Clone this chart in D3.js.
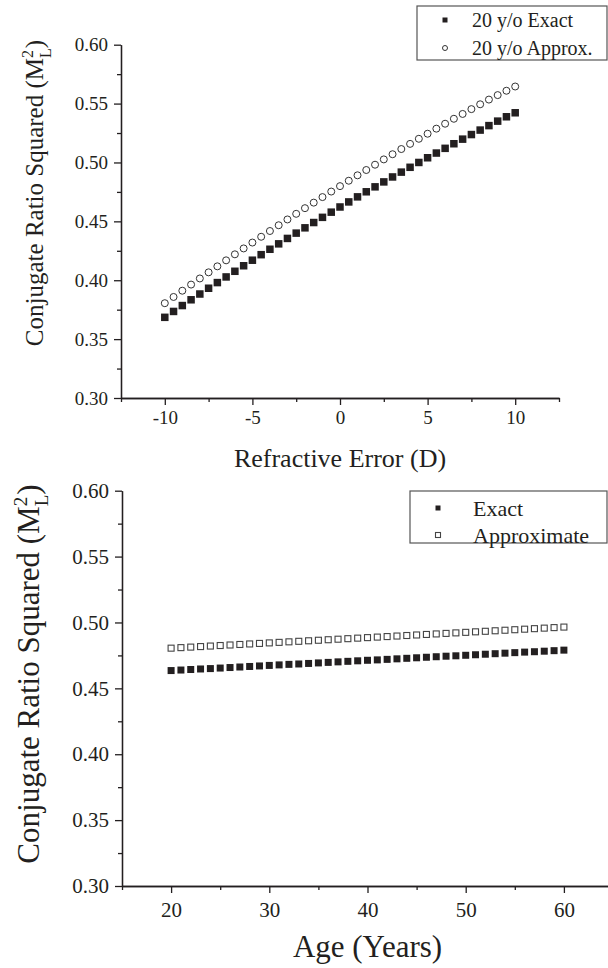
<!DOCTYPE html>
<html lang="en">
  <head>
    <meta charset="utf-8" />
    <title>Conjugate Ratio Squared</title>
    <script src="https://d3js.org/d3.v7.min.js"></script>
    <style>
      body { margin: 0; background: #fff; }
      svg { display: block; }
    </style>
  </head>
  <body>
    <script type="text/javascript">
      // top panel: refractive error (D)
      const refErr = [
        -10, -9.5, -9, -8.5, -8, -7.5, -7, -6.5, -6, -5.5, -5, -4.5, -4, -3.5,
        -3, -2.5, -2, -1.5, -1, -0.5, 0, 0.5, 1, 1.5, 2, 2.5, 3, 3.5, 4, 4.5, 5,
        5.5, 6, 6.5, 7, 7.5, 8, 8.5, 9, 9.5, 10,
      ];
      const exact20 = [
        0.3685, 0.3735, 0.3785, 0.3834, 0.3883, 0.3932, 0.398, 0.4028, 0.4076,
        0.4123, 0.417, 0.4217, 0.4263, 0.4309, 0.4355, 0.44, 0.4445, 0.449,
        0.4534, 0.4578, 0.4622, 0.4665, 0.4708, 0.4751, 0.4793, 0.4835, 0.4877,
        0.4918, 0.4959, 0.5, 0.504, 0.508, 0.512, 0.5159, 0.5198, 0.5237,
        0.5275, 0.5313, 0.5351, 0.5388, 0.5422,
      ];
      const approx20 = [
        0.3805, 0.3858, 0.3911, 0.3963, 0.4015, 0.4067, 0.4118, 0.4169, 0.422,
        0.427, 0.432, 0.4369, 0.4418, 0.4467, 0.4516, 0.4564, 0.4612, 0.4659,
        0.4706, 0.4753, 0.4799, 0.4845, 0.4891, 0.4936, 0.4981, 0.5026, 0.507,
        0.5114, 0.5158, 0.5201, 0.5244, 0.5287, 0.5329, 0.5371, 0.5412, 0.5453,
        0.5494, 0.5534, 0.5572, 0.5609, 0.5645,
      ];

      // bottom panel: age (years)
      const ages = [
        20, 21, 22, 23, 24, 25, 26, 27, 28, 29, 30, 31, 32, 33, 34, 35, 36, 37,
        38, 39, 40, 41, 42, 43, 44, 45, 46, 47, 48, 49, 50, 51, 52, 53, 54, 55,
        56, 57, 58, 59, 60,
      ];
      const exactAge = [
        0.4635, 0.4639, 0.4643, 0.4647, 0.465, 0.4654, 0.4658, 0.4662, 0.4666,
        0.467, 0.4674, 0.4678, 0.4682, 0.4685, 0.4689, 0.4693, 0.4697, 0.4701,
        0.4705, 0.4709, 0.4713, 0.4716, 0.472, 0.4724, 0.4728, 0.4732, 0.4736,
        0.474, 0.4744, 0.4747, 0.4751, 0.4755, 0.4759, 0.4763, 0.4767, 0.4771,
        0.4775, 0.4778, 0.4782, 0.4786, 0.479,
      ];
      const approxAge = [
        0.4805, 0.4809, 0.4813, 0.4817, 0.4821, 0.4825, 0.4829, 0.4833, 0.4837,
        0.4841, 0.4845, 0.4849, 0.4853, 0.4857, 0.4861, 0.4865, 0.4869, 0.4873,
        0.4877, 0.4881, 0.4885, 0.4889, 0.4893, 0.4897, 0.4901, 0.4905, 0.4909,
        0.4913, 0.4917, 0.4921, 0.4925, 0.4929, 0.4933, 0.4937, 0.4941, 0.4945,
        0.4949, 0.4953, 0.4957, 0.4961, 0.4965,
      ];

      const yTicks = [0.3, 0.35, 0.4, 0.45, 0.5, 0.55, 0.6];
      const yMinor = [0.325, 0.375, 0.425, 0.475, 0.525, 0.575];
      const refTicks = [-10, -5, 0, 5, 10];
      const refMinor = [-12.5, -7.5, -2.5, 2.5, 7.5, 12.5];
      const ageTicks = [20, 30, 40, 50, 60];
      const ageMinor = [15, 25, 35, 45, 55, 65];

      const w = 608;
      const h = 968;
      const ink = "#231f20";
      const serif = '"Liberation Serif", "Times New Roman", serif';

      const svg = d3
        .select("body")
        .append("svg")
        .attr("width", w)
        .attr("height", h);

      function styleAxis(g) {
        g.attr("font-family", serif);
        g.selectAll("path, line").attr("stroke", ink).attr("stroke-width", 1.3);
        g.selectAll("text").attr("fill", ink).style("font-family", serif);
      }

      function label(sel) {
        return sel.append("text").attr("fill", ink).style("font-family", serif);
      }

      function panel(p) {
        const x = d3.scaleLinear().domain(p.xDomain).range([p.left, p.right]);
        const y = d3.scaleLinear().domain([0.3, 0.6]).range([p.bottom, p.top]);

        // minor ticks
        svg.append("g")
          .attr("transform", "translate(0," + p.bottom + ")")
          .call(d3.axisBottom(x).tickValues(p.xMinor).tickSize(4).tickSizeOuter(0).tickFormat(""))
          .call(styleAxis);
        svg.append("g")
          .attr("transform", "translate(" + p.left + ",0)")
          .call(d3.axisLeft(y).tickValues(yMinor).tickSize(4).tickSizeOuter(0).tickFormat(""))
          .call(styleAxis);

        svg.append("g")
          .attr("transform", "translate(0," + p.bottom + ")")
          .call(d3.axisBottom(x).tickValues(p.xTicks).tickSize(7).tickSizeOuter(0)
            .tickPadding(p.xPad).tickFormat((d) => String(d)))
          .call(styleAxis)
          .attr("font-size", p.tickFont);

        svg.append("g")
          .attr("transform", "translate(" + p.left + ",0)")
          .call(d3.axisLeft(y).tickValues(yTicks).tickSize(7).tickSizeOuter(0)
            .tickPadding(6).tickFormat(d3.format(".2f")))
          .call(styleAxis)
          .attr("font-size", p.tickFont);

        // axis titles
        label(svg)
          .attr("x", (p.left + p.right) / 2)
          .attr("y", p.xTitleY)
          .attr("text-anchor", "middle")
          .attr("font-size", p.titleFont)
          .text(p.xTitle);

        const yt = label(svg)
          .attr("transform", "translate(" + p.yTitleX + "," + p.yTitleMid + ") rotate(-90)")
          .attr("text-anchor", "middle")
          .attr("font-size", p.yTitleFont);
        yt.append("tspan").text("Conjugate Ratio Squared (M");
        const s = Math.round(p.yTitleFont * 0.62);
        yt.append("tspan").attr("font-size", s).attr("dy", -p.yTitleFont * 0.4).text("2");
        yt.append("tspan").attr("font-size", s).attr("dx", -s * 0.5).attr("dy", p.yTitleFont * 0.7).text("L");
        yt.append("tspan").attr("dy", -p.yTitleFont * 0.3).text(")");

        // series
        p.series.forEach((sr) => {
          const g = svg.append("g");
          const pts = p.xs.map((d, i) => [d, sr.values[i]]);
          drawMarks(g, pts, sr.shape, sr.size, x, y);
        });

        // legend
        const lg = svg.append("g");
        lg.append("rect")
          .attr("x", p.legend.x).attr("y", p.legend.y)
          .attr("width", p.legend.w).attr("height", p.legend.h)
          .attr("fill", "#fff").attr("stroke", "#555").attr("stroke-width", 1.2);
        p.series.forEach((sr, i) => {
          const cy = p.legend.y + p.legend.row0 + i * p.legend.rowH;
          drawMarks(lg, [[0, 0]], sr.shape, p.legend.mark,
            () => p.legend.x + p.legend.markX, () => cy);
          label(lg)
            .attr("x", p.legend.x + p.legend.textX)
            .attr("y", cy)
            .attr("dy", "0.35em")
            .attr("font-size", p.legend.font)
            .text(sr.name);
        });
      }

      function drawMarks(g, pts, shape, size, x, y) {
        if (shape === "square") {
          g.selectAll(null).data(pts).enter().append("rect")
            .attr("x", (d) => x(d[0]) - size / 2)
            .attr("y", (d) => y(d[1]) - size / 2)
            .attr("width", size).attr("height", size)
            .attr("fill", ink);
        } else if (shape === "openSquare") {
          g.selectAll(null).data(pts).enter().append("rect")
            .attr("x", (d) => x(d[0]) - size / 2)
            .attr("y", (d) => y(d[1]) - size / 2)
            .attr("width", size).attr("height", size)
            .attr("fill", "#fff").attr("stroke", "#444").attr("stroke-width", 1.1);
        } else {
          g.selectAll(null).data(pts).enter().append("circle")
            .attr("cx", (d) => x(d[0]))
            .attr("cy", (d) => y(d[1]))
            .attr("r", size / 2)
            .attr("fill", "#fff").attr("stroke", "#333").attr("stroke-width", 1);
        }
      }

      panel({
        xDomain: [-12.5, 12.5], left: 121, right: 559, top: 44.7, bottom: 398,
        xs: refErr, xTicks: refTicks, xMinor: refMinor, xPad: 6,
        tickFont: 19, titleFont: 26, yTitleFont: 25, yTitleX: 43, yTitleMid: 193,
        xTitle: "Refractive Error (D)", xTitleY: 467,
        series: [
          { name: "20 y/o Exact", values: exact20, shape: "square", size: 7.5 },
          { name: "20 y/o Approx.", values: approx20, shape: "circle", size: 7 },
        ],
        legend: { x: 417, y: 6, w: 190, h: 54, row0: 14, rowH: 28, markX: 28, textX: 55, mark: 5, font: 20 },
      });

      panel({
        xDomain: [15, 65], left: 122, right: 613, top: 490.7, bottom: 886,
        xs: ages, xTicks: ageTicks, xMinor: ageMinor, xPad: 9,
        tickFont: 21, titleFont: 31, yTitleFont: 31, yTitleX: 39, yTitleMid: 674,
        xTitle: "Age (Years)", xTitleY: 957,
        series: [
          { name: "Exact", values: exactAge, shape: "square", size: 7 },
          { name: "Approximate", values: approxAge, shape: "openSquare", size: 6 },
        ],
        legend: { x: 410, y: 491, w: 197, h: 52, row0: 17, rowH: 27, markX: 28, textX: 63, mark: 5, font: 22 },
      });
    </script>
  </body>
</html>
